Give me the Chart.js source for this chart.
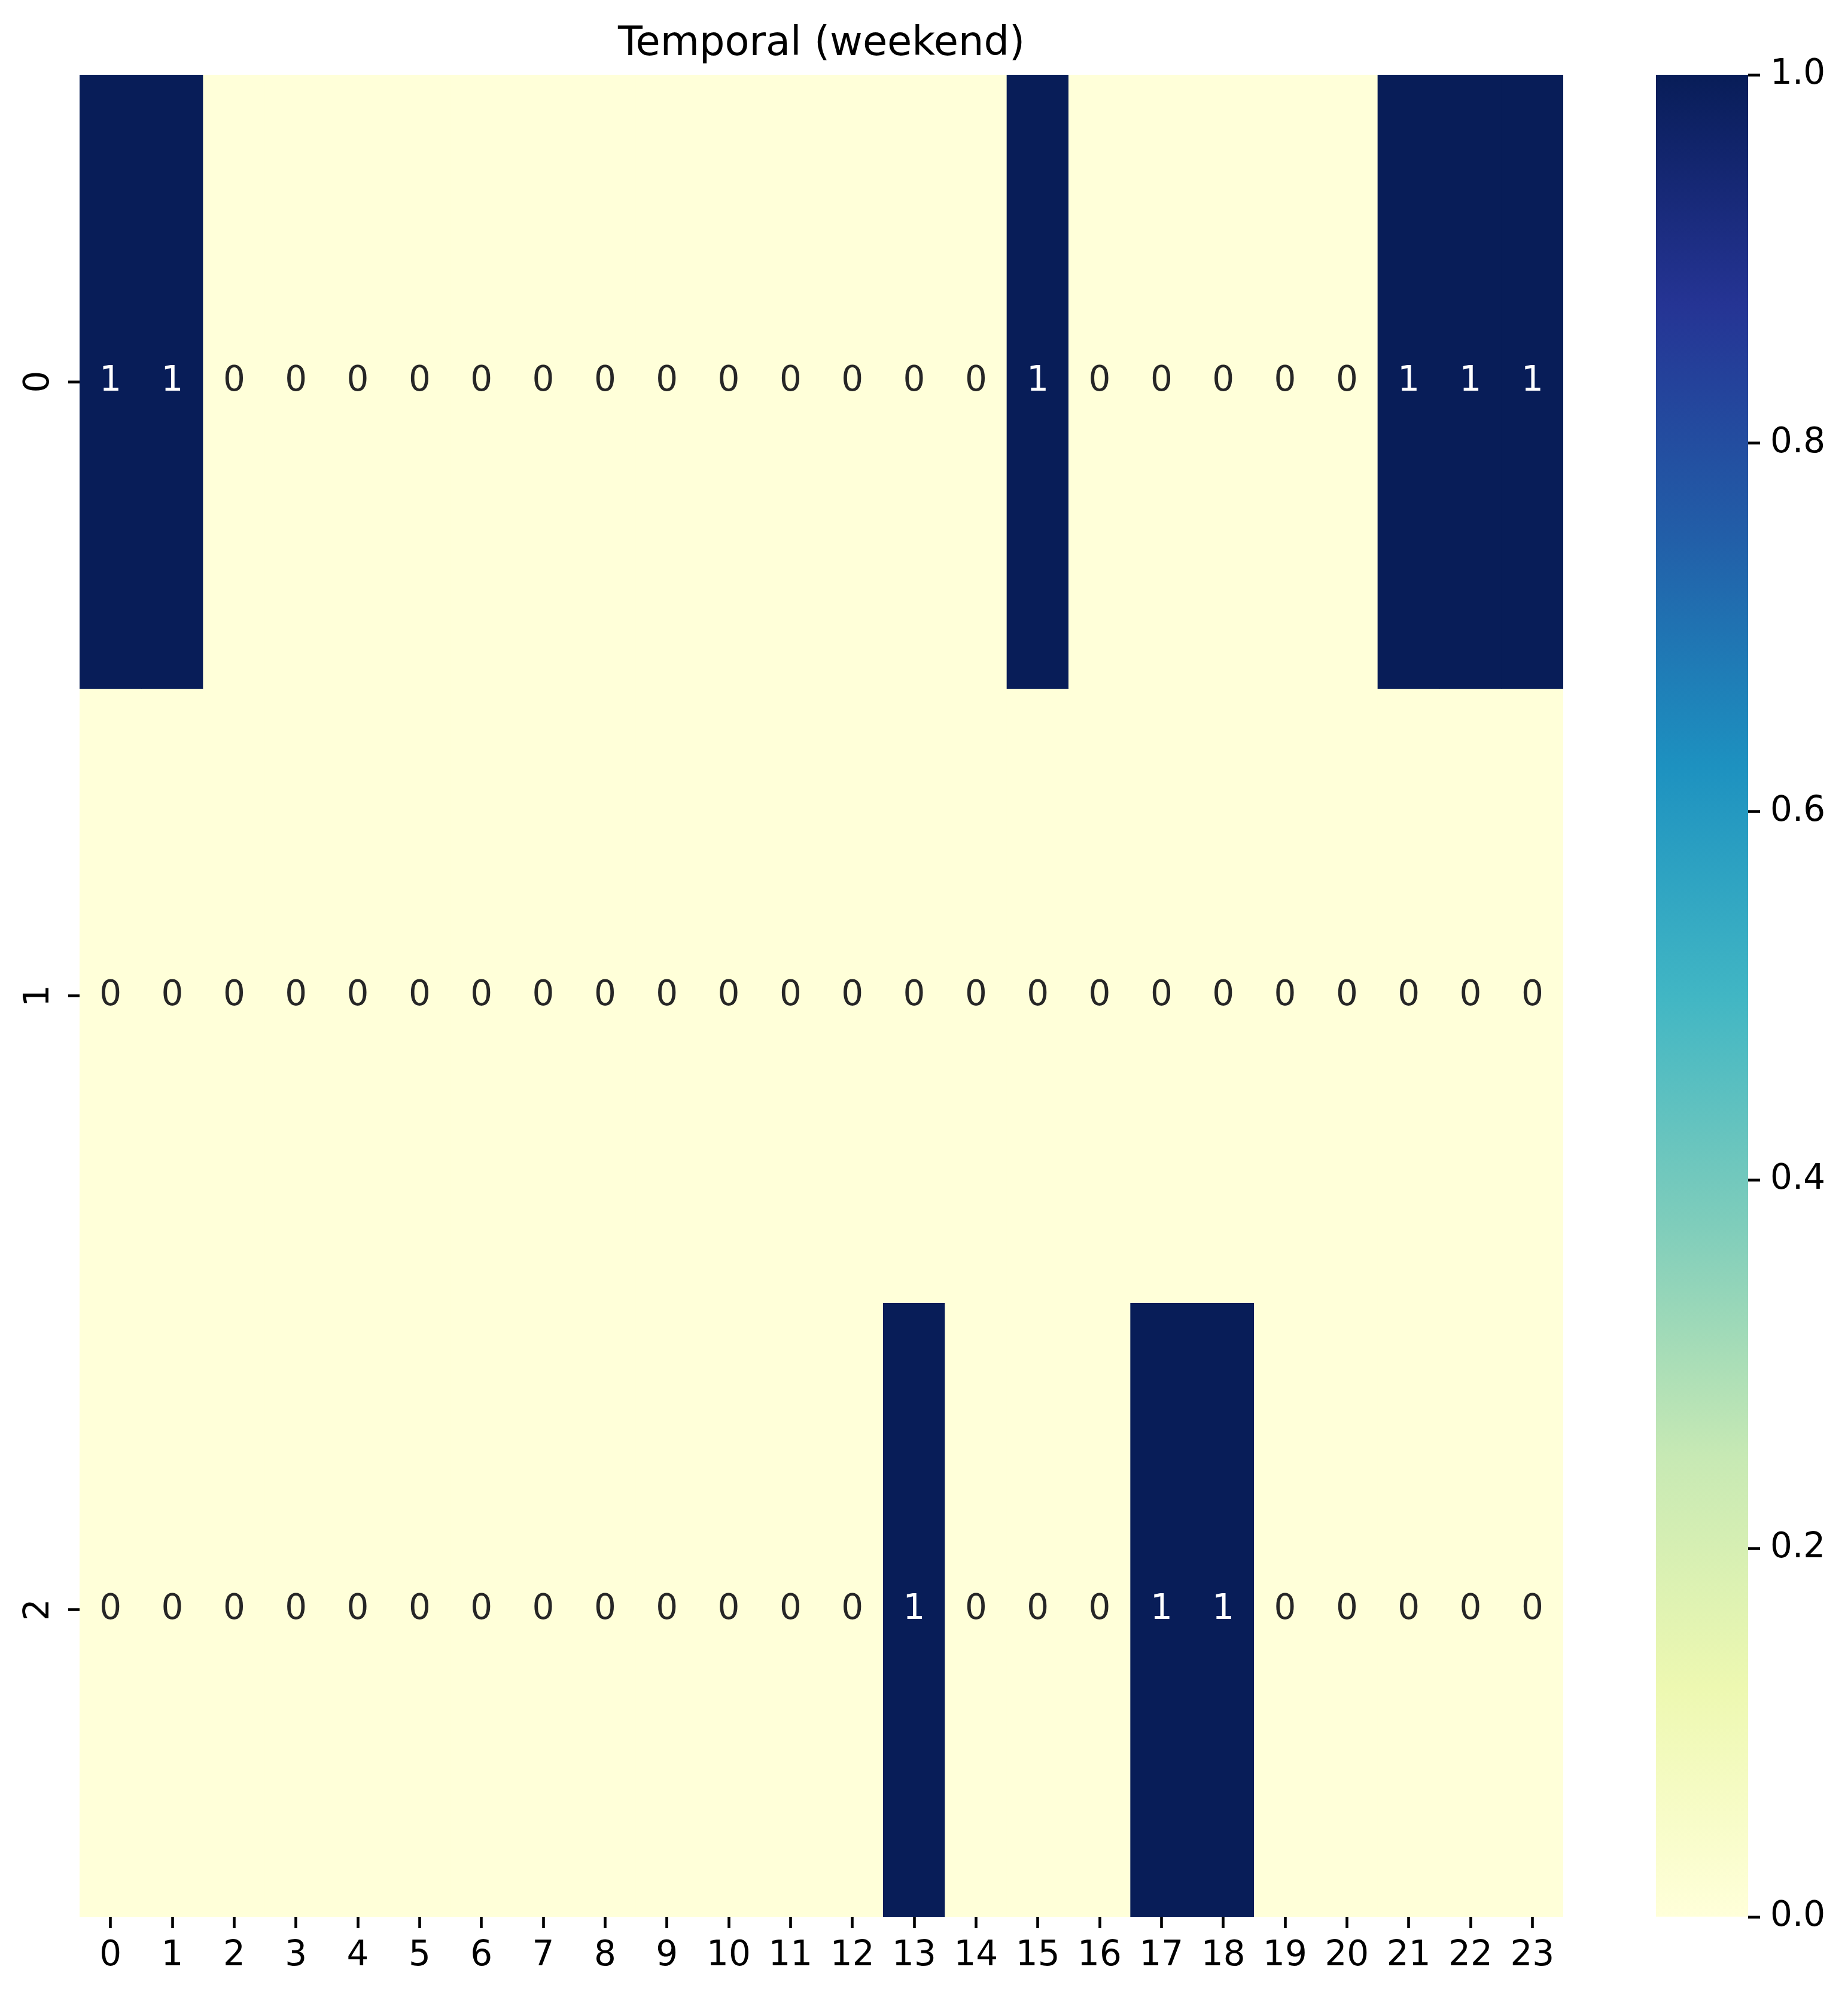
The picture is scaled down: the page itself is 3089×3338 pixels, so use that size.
<!DOCTYPE html>
<html>
<head>
<meta charset="utf-8">
<title>Temporal (weekend)</title>
<script src="https://cdn.jsdelivr.net/npm/chart.js@4.4.1/dist/chart.umd.min.js"></script>
<style>
  html, body { margin: 0; padding: 0; background: #fff; }
  body { width: 3089px; height: 3338px; position: relative; overflow: hidden; }
  #heat { position: absolute; left: 0; top: 0; width: 2700px; height: 3338px; }
  #cbar { position: absolute; left: 2700px; top: 0; width: 389px; height: 3338px; }
</style>
</head>
<body>
<canvas id="heat" width="2700" height="3338"></canvas>
<canvas id="cbar" width="389" height="3338"></canvas>
<script>
const titleText = "Temporal (weekend)";
const hours = ["0", "1", "2", "3", "4", "5", "6", "7", "8", "9", "10", "11",
  "12", "13", "14", "15", "16", "17", "18", "19", "20", "21", "22", "23"];
const rowLabels = ["0", "1", "2"];
const row0 = [1, 1, 0, 0, 0, 0, 0, 0, 0, 0, 0, 0, 0, 0, 0, 1, 0, 0, 0, 0, 0, 1, 1, 1];
const row1 = [0, 0, 0, 0, 0, 0, 0, 0, 0, 0, 0, 0, 0, 0, 0, 0, 0, 0, 0, 0, 0, 0, 0, 0];
const row2 = [0, 0, 0, 0, 0, 0, 0, 0, 0, 0, 0, 0, 0, 1, 0, 0, 0, 1, 1, 0, 0, 0, 0, 0];
const rows = [row0, row1, row2];
const cbarTicks = [0, 0.2, 0.4, 0.6, 0.8, 1.0];
const vmin = 0;
const vmax = 1;

// YlGnBu (colorbrewer 9 class)
const ylGnBu = ["#ffffd9", "#edf8b1", "#c7e9b4", "#7fcdbb", "#41b6c4",
  "#1d91c0", "#225ea8", "#253494", "#081d58"];

const hexToRgb = (hex) => {
  const h = hex.replace(/^#/, "");
  return [0, 2, 4].map((i) => parseInt(h.slice(i, i + 2), 16));
};

const cmap = (v) => {
  let t = (v - vmin) / (vmax - vmin);
  t = Math.max(0, Math.min(1, t));
  const pos = t * (ylGnBu.length - 1);
  const i = Math.min(Math.floor(pos), ylGnBu.length - 2);
  const f = pos - i;
  const a = hexToRgb(ylGnBu[i]);
  const b = hexToRgb(ylGnBu[i + 1]);
  const c = a.map((x, k) => Math.round(x + (b[k] - x) * f));
  return `rgb(${c[0]}, ${c[1]}, ${c[2]})`;
};

const FONT = "'DejaVu Sans', sans-serif";
const TICK_SIZE = 58;
Chart.defaults.font.family = FONT;
Chart.defaults.font.size = TICK_SIZE;
Chart.defaults.color = "#000";

const tickGrid = {
  display: true,
  drawOnChartArea: false,
  drawTicks: true,
  tickLength: 19,
  tickWidth: 4.6,
  tickColor: "#000",
  offset: false,
};

const titlePlugin = {
  id: "heatTitle",
  afterDraw(chart) {
    const { ctx, chartArea } = chart;
    ctx.save();
    ctx.font = `67px ${FONT}`;
    ctx.fillStyle = "#000";
    ctx.textAlign = "center";
    ctx.textBaseline = "alphabetic";
    ctx.fillText(titleText, (chartArea.left + chartArea.right) / 2, 92);
    ctx.restore();
  },
};

// cell annotations, like seaborn annot=True
const annotPlugin = {
  id: "annot",
  afterDatasetsDraw(chart) {
    const { ctx } = chart;
    ctx.save();
    ctx.font = `${TICK_SIZE}px ${FONT}`;
    ctx.textAlign = "center";
    ctx.textBaseline = "middle";
    rows.forEach((vals, i) => {
      const meta = chart.getDatasetMeta(i);
      meta.data.forEach((bar, j) => {
        const { x, y } = bar.getCenterPoint();
        const v = vals[j];
        ctx.fillStyle = v > 0.5 ? "#ffffff" : "#262626";
        ctx.fillText(String(v), x, y);
      });
    });
    ctx.restore();
  },
};

new Chart(document.getElementById("heat"), {
  type: "bar",
  data: {
    labels: hours,
    datasets: rows.map((vals, i) => ({
      label: rowLabels[i],
      data: vals.map(() => [i, i + 1]),
      backgroundColor: vals.map((v) => cmap(v)),
      borderWidth: 0,
      barPercentage: 1,
      categoryPercentage: 1,
      grouped: false,
    })),
  },
  options: {
    responsive: false,
    animation: false,
    layout: { padding: { top: 125, right: 87, bottom: 0, left: 0 } },
    scales: {
      x: {
        grid: tickGrid,
        border: { display: false },
        ticks: { autoSkip: false, maxRotation: 0, minRotation: 0, padding: 12 },
        afterFit(axis) { axis.height = 134; },
      },
      y: {
        type: "linear",
        min: 0,
        max: rows.length,
        reverse: true,
        grid: tickGrid,
        border: { display: false },
        afterBuildTicks(axis) {
          axis.ticks = rowLabels.map((_, i) => ({ value: i + 0.5 }));
        },
        ticks: {
          minRotation: 90,
          maxRotation: 90,
          crossAlign: "center",
          padding: 30,
          callback: (v) => rowLabels[Math.floor(v)],
        },
        afterFit(axis) { axis.width = 133; },
      },
    },
    plugins: {
      legend: { display: false },
      tooltip: { enabled: false },
      title: { display: false },
    },
  },
  plugins: [annotPlugin, titlePlugin],
});

new Chart(document.getElementById("cbar"), {
  type: "bar",
  data: {
    labels: [""],
    datasets: [
      {
        data: [[vmin, vmax]],
        borderWidth: 0,
        barPercentage: 1,
        categoryPercentage: 1,
        backgroundColor(ctx) {
          const chart = ctx.chart;
          const y = chart.scales.y;
          if (!chart.chartArea || !y) return ylGnBu[0];
          const g = chart.ctx.createLinearGradient(0, y.getPixelForValue(vmin), 0, y.getPixelForValue(vmax));
          ylGnBu.forEach((c, i) => g.addColorStop(i / (ylGnBu.length - 1), c));
          return g;
        },
      },
    ],
  },
  options: {
    responsive: false,
    animation: false,
    layout: { padding: { top: 125, right: 0, bottom: 134, left: 68 } },
    scales: {
      x: { display: false },
      y: {
        position: "right",
        min: vmin,
        max: vmax,
        grid: { ...tickGrid, tickLength: 20 },
        border: { display: false },
        afterBuildTicks(axis) {
          axis.ticks = cbarTicks.map((v) => ({ value: v }));
        },
        ticks: {
          padding: 17,
          callback: (v) => Number(v).toFixed(1),
        },
        afterFit(axis) { axis.width = 167; },
      },
    },
    plugins: {
      legend: { display: false },
      tooltip: { enabled: false },
    },
  },
});
</script>
</body>
</html>
